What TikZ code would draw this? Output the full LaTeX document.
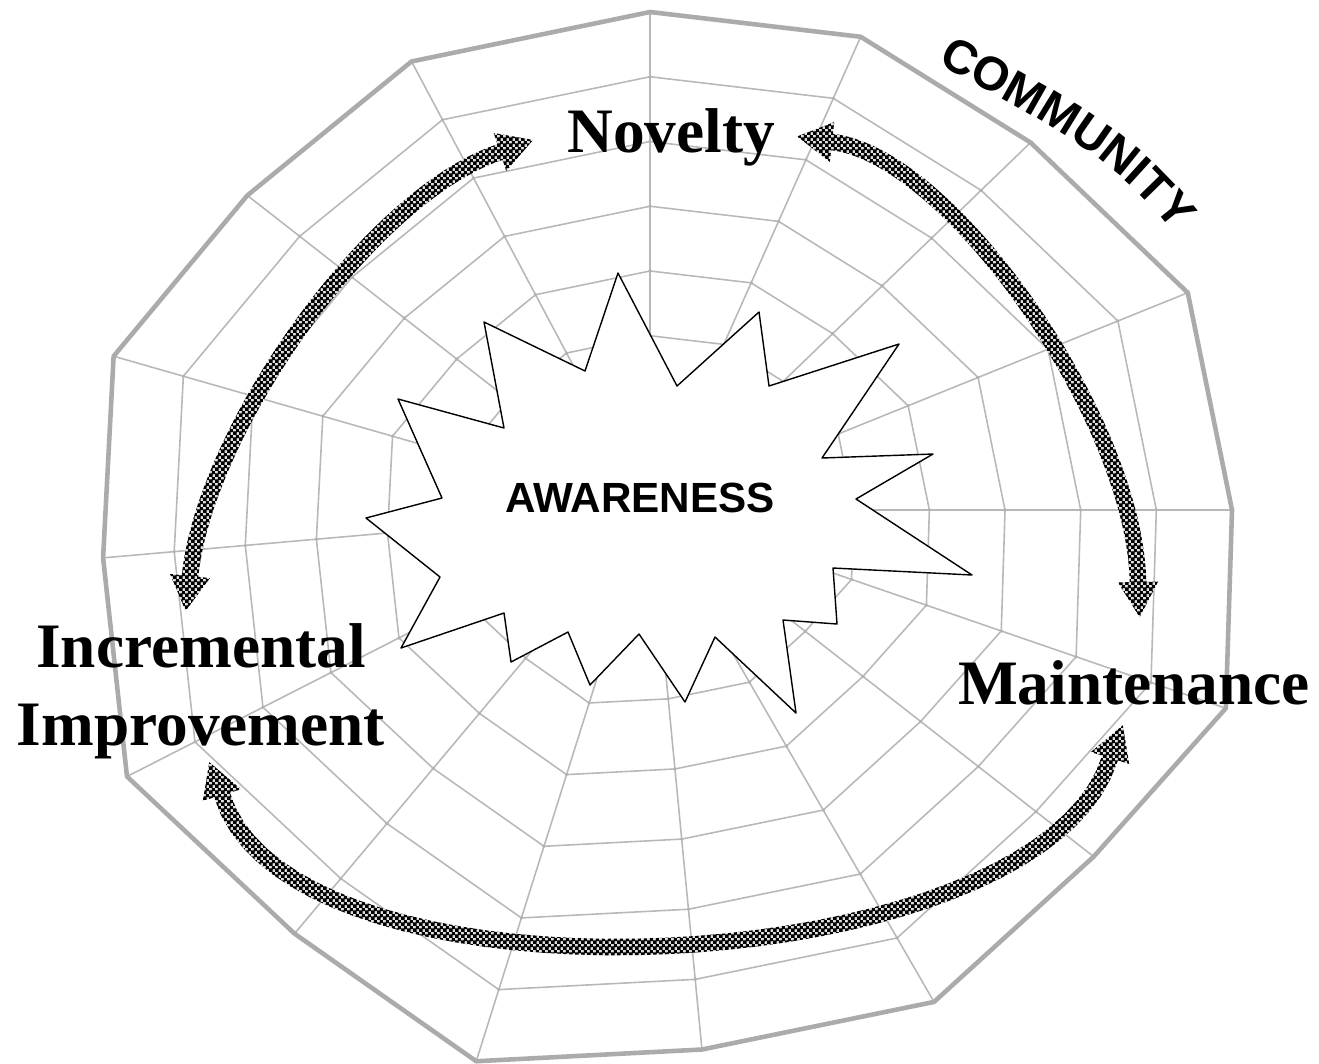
\documentclass[tikz,border=0pt]{standalone}
\usepackage{fontspec}
\setmainfont{Liberation Serif}
\newfontfamily\arialfont{Liberation Sans}
\usetikzlibrary{calc,patterns,decorations.text}
\pgfdeclarepatternformonly{finechecker}{\pgfpointorigin}{\pgfqpoint{1.7pt}{1.7pt}}{\pgfqpoint{1.7pt}{1.7pt}}{%
	\pgfpathrectangle{\pgfpointorigin}{\pgfqpoint{1pt}{1pt}}%
	\pgfpathrectangle{\pgfqpoint{0.85pt}{0.85pt}}{\pgfqpoint{1pt}{1pt}}%
	\pgfusepath{fill}}
\tikzset{
	web/.style={draw=black!28,line width=0.45pt},
	rim/.style={draw=black!33,line width=1.3pt},
	knot/.style={fill=black!30},
	lbl/.style={font=\fontsize{18}{22.2}\selectfont\bfseries,inner sep=0pt},
	band/.style={inner sep=0pt,minimum width=0pt,minimum height=4.3pt,sloped,allow upside down},
	head/.style={inner sep=0pt,minimum width=0pt,minimum height=11pt,sloped,allow upside down}
}
\begin{document}
\begin{tikzpicture}[x=0.01cm,y=-0.01cm,line join=round,line cap=round]
	\useasboundingbox (0,0) rectangle (1319,1063);
	\coordinate (O) at (650,510);
	%Nan hoi
	\foreach \i/\a/\r in {1/-90/498,2/-66/518,3/-44/529,4/-22/580,5/0/582,6/19/609,7/38/563,8/60/568,9/84.5/542,10/107.5/578,11/130/553,12/153/587,13/175/549,14/196/558,15/218/511,16/242/508}{
		\coordinate (s\i) at ($(O)+(\a:\r)$);
		\draw[web] ($(O)!0.08!(s\i)$) -- (s\i);}
	\foreach \f [count=\j] in {0.22,0.35,0.48,0.61,0.74,0.87}{
		\foreach \i in {1,...,16}{\coordinate (k\i-\j) at ($(O)!\f!(s\i)$);}
		\draw[web] (k1-\j) \foreach \i in {2,...,16}{--(k\i-\j)} --cycle;
		\foreach \i in {1,...,16}{\fill[knot] (k\i-\j) circle (1.8);}}
	\draw[rim] (s1) \foreach \i in {2,...,16}{--(s\i)} --cycle;
	%Ngoi sao
	\draw[fill=white,line width=0.4pt] (618,273)--(677,386)--(759,312)--(769,386)--(899,344)--(822,458)--(933,454)--(856,499)--(972,575)--(833,568)--(837,624)--(783,620)--(796,713)--(715,637)--(685,702)--(639,634)--(590,685)--(568,632)--(511,662)--(504,613)--(401,648)--(440,577)--(366,518)--(442,498)--(398,399)--(504,428)--(484,322)--(585,371)--cycle;
	\node[font=\arialfont\bfseries\fontsize{12}{14}\selectfont,anchor=base] (aware) at (640,512) {AWARENESS};
	%Mui ten
	\path (190,576) coordinate (l0) (205,430) coordinate (l1) (370,195) coordinate (l2) (500,152) coordinate (l3)
	(832,142) coordinate (r0) (950,155) coordinate (r1) (1135,420) coordinate (r2) (1138,582) coordinate (r3)
	(222,795) coordinate (b0) (290,1020) coordinate (b1) (1040,985) coordinate (b2) (1110,758) coordinate (b3);
	\foreach \n in {l,r,b}{
		\path (\n0) .. controls (\n1) and (\n2) .. (\n3)
		foreach \k [evaluate=\k as \t using \k/40] in {0,...,40}{node[band,pos=\t] (\n-\k) {}}
		node[head,pos=0] (\n-h0) {} node[head,pos=1] (\n-h1) {};
		\coordinate (\n-t0) at ($(\n-0)!-10pt!(\n-1)$);
		\coordinate (\n-t1) at ($(\n-40)!-10pt!(\n-39)$);
		\fill[pattern=finechecker,preaction={fill=black!12}] (\n-0.north) foreach \k in {1,...,40}{--(\n-\k.north)} --(\n-h1.north) --(\n-t1) --(\n-h1.south) foreach \k in {40,...,0}{--(\n-\k.south)} --(\n-h0.south) --(\n-t0) --(\n-h0.north) --cycle;}
	%Nhan
	\node[lbl,anchor=base] (novelty) at (671,152) {Novelty};
	\node[lbl,anchor=base] (maint) at (1134,704) {Maintenance};
	\node[lbl,align=center,anchor=north] (incr) at (201,623) {Incremental\\Improvement};
	\path[decorate,decoration={text along path,text align=center,text={|\arialfont\bfseries\fontsize{13.5}{13.5}\selectfont|COMMUNITY}}] (932,60) .. controls (1021,110) and (1119,154) .. (1176,238);
\end{tikzpicture}
\end{document}
